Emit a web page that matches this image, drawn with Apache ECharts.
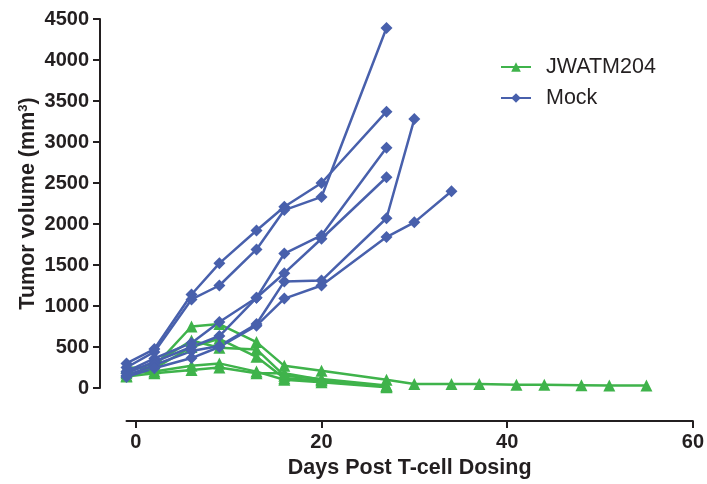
<!DOCTYPE html>
<html>
<head>
<meta charset="utf-8">
<script src="https://cdn.jsdelivr.net/npm/echarts@6/dist/echarts.min.js"></script>
<style>
html,body{margin:0;padding:0;background:#fff;}
#chart{width:707px;height:484px;}
</style>
</head>
<body>
<div id="chart"></div>
<script>
// Days of measurement
const greenDays = [-1, 2, 6, 9, 13, 16, 20, 27, 30, 34, 37, 41, 44, 48, 51, 55];
const mockDays  = [-1, 2, 6, 9, 13, 16, 20, 27, 30, 34];

// JWATM204 (green) tumour volumes per mouse
const jw1 = [150, 260, 750, 780, 560, 270, 210, 100, 50, 50, 50, 40, 40, 35, 30, 30];
const jw2 = [200, 300, 580, 490, 470, 150, 110, 30];
const jw3 = [250, 240, 500, 600, 380, 120, 90, 20];
const jw4 = [180, 200, 270, 300, 200, 100, 70, 10];
const jw5 = [140, 180, 220, 250, 180, 180, 100, 20];

// Mock (blue) tumour volumes per mouse
const mockA = [300, 475, 1140, 1520, 1920, 2210, 2500, 3370];
const mockB = [250, 440, 1080, 1250, 1690, 2170, 2330, 4390];
const mockC = [200, 360, 550, 805, 1100, 1640, 1860, 2930];
const mockD = [180, 320, 500, 634, 1100, 1400, 1820, 2570];
const mockE = [150, 280, 450, 512, 780, 1300, 1310, 2070, 3280];
const mockF = [135, 240, 365, 500, 760, 1090, 1250, 1840, 2020, 2400];

const xTicks = [0, 20, 40, 60];

const GREEN = '#3fb34b';
const BLUE = '#4860ac';
const INK = '#231f20';
const FONT = '"Liberation Sans", Arial, Helvetica, sans-serif';

function pair(days, vals) { return vals.map((v, i) => [days[i], v]); }

function mk(name, days, vals, color, symbol, size) {
  return {
    name: name, type: 'line', data: pair(days, vals),
    symbol: symbol, symbolSize: size,
    lineStyle: { color: color, width: 2.5 },
    itemStyle: { color: color },
    emphasis: { disabled: true },
    animation: false
  };
}

const series = [];
[jw1, jw2, jw3, jw4, jw5].forEach(v => series.push(mk('JWATM204', greenDays, v, GREEN, 'triangle', 12)));
[mockA, mockB, mockC, mockD, mockE, mockF].forEach(v => series.push(mk('Mock', mockDays, v, BLUE, 'diamond', 12)));

const chart = echarts.init(document.getElementById('chart'), null, { renderer: 'canvas' });
chart.setOption({
  backgroundColor: '#fff',
  animation: false,
  textStyle: { fontFamily: FONT },
  grid: { left: 126.5, right: 9, top: 19, bottom: 96, containLabel: false },
  legend: {
    data: ['JWATM204', 'Mock'],
    orient: 'vertical', left: 495, top: 51,
    itemWidth: 30, itemHeight: 12, itemGap: 9,
    textStyle: { fontSize: 21.5, color: INK, fontFamily: FONT, padding: [0, 0, 0, 10] }
  },
  xAxis: {
    type: 'value', min: -1, max: 60,
    offset: 33,
    name: 'Days Post T-cell Dosing', nameLocation: 'middle', nameGap: 36,
    nameMoveOverlap: false,
    nameTextStyle: { fontSize: 21.5, fontWeight: 'bold', color: INK, fontFamily: FONT },
    axisLine: { show: true, onZero: false, lineStyle: { color: INK, width: 2 } },
    axisTick: { show: true, length: 7, lineStyle: { color: INK, width: 2 }, customValues: xTicks },
    axisLabel: { fontSize: 20, fontWeight: 'bold', color: INK, margin: 11, customValues: xTicks },
    splitLine: { show: false }
  },
  yAxis: {
    type: 'value', min: 0, max: 4500, interval: 500,
    offset: 26.5,
    name: 'Tumor volume (mm{sup|3})', nameLocation: 'middle', nameGap: 61, nameRotate: 90,
    nameMoveOverlap: false,
    nameTextStyle: {
      fontSize: 21.5, fontWeight: 'bold', color: INK, fontFamily: FONT,
      rich: { sup: { fontSize: 13, fontWeight: 'bold', color: INK, verticalAlign: 'top', padding: [0, 0, 9, 0] } }
    },
    axisLine: { show: true, onZero: false, lineStyle: { color: INK, width: 2 } },
    axisTick: { show: true, length: 7, lineStyle: { color: INK, width: 2 } },
    axisLabel: { fontSize: 20, fontWeight: 'bold', color: INK, margin: 11, formatter: v => String(v) },
    splitLine: { show: false }
  },
  series: series
});
</script>
</body>
</html>
